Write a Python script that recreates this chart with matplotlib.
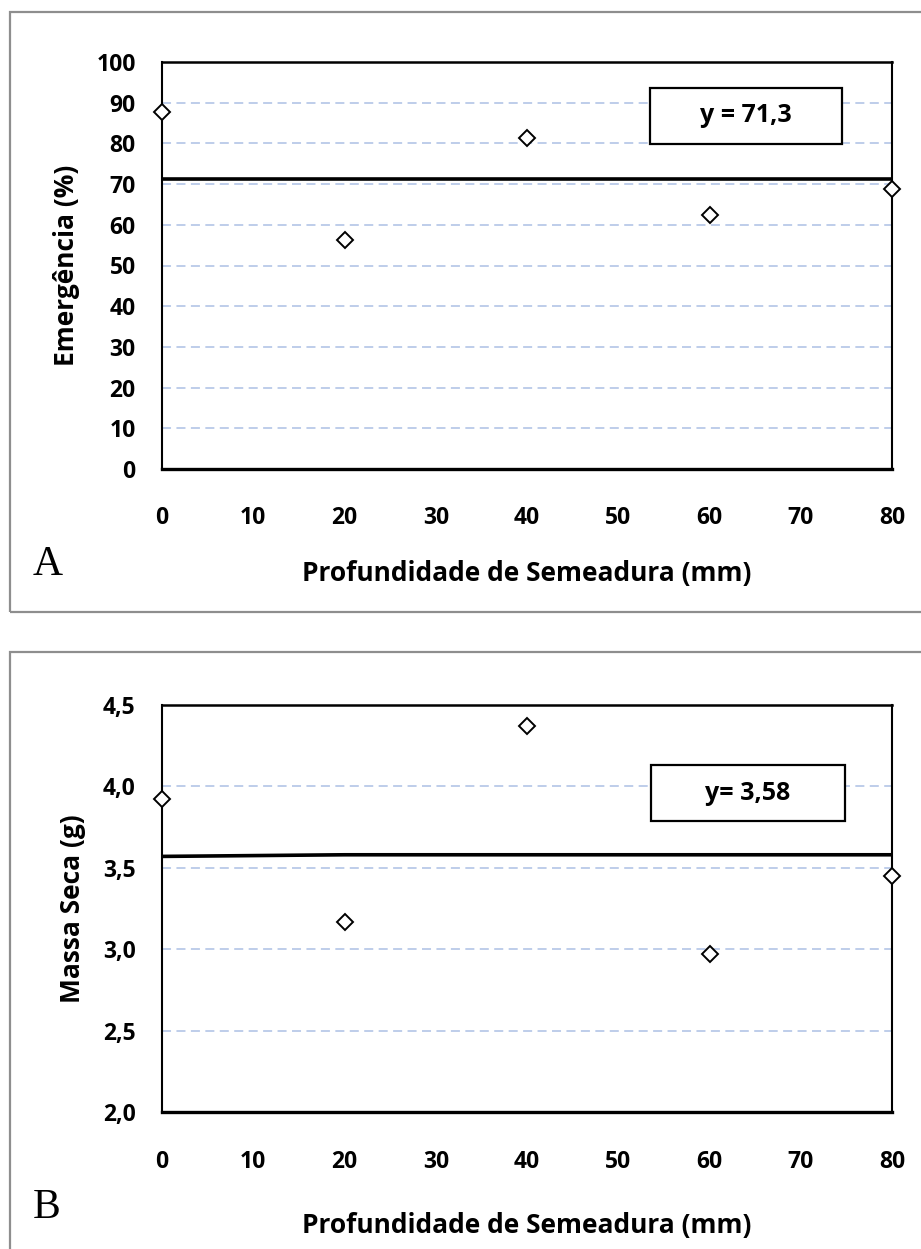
import matplotlib
matplotlib.use("Agg")
import matplotlib.pyplot as plt
from matplotlib.patches import Rectangle

# dados
profundidade = [0, 20, 40, 60, 80]
emergencia = [87.6, 56.3, 81.3, 62.5, 68.8]
emergencia_media = [71.3, 71.3, 71.3, 71.3, 71.3]
massa_seca = [3.92, 3.17, 4.37, 2.97, 3.45]
massa_media = [3.57, 3.58, 3.58, 3.58, 3.58]

x_ticks = [0, 10, 20, 30, 40, 50, 60, 70, 80]
y_ticks_a = [0, 10, 20, 30, 40, 50, 60, 70, 80, 90, 100]
y_ticks_b = [2.0, 2.5, 3.0, 3.5, 4.0, 4.5]

W, H = 921, 1249
FONT = "Open Sans"
GRID = "#b9c9e8"

fig = plt.figure(figsize=(W / 100, H / 100), dpi=100)


def px_rect(x0, y0, x1, y1):
    # pixels (origem no topo) -> coordenadas da figura
    return [x0 / W, 1 - y1 / H, (x1 - x0) / W, (y1 - y0) / H]


def painel(top, frame, y, media, yticks, ylim, ylabel, fmt, letra, eq, box, xpad):
    # moldura cinzenta
    fx0, fy0, fx1, fy1 = frame
    fig.patches.append(Rectangle((fx0 / W, 1 - fy1 / H), (fx1 - fx0) / W, (fy1 - fy0) / H,
                                 transform=fig.transFigure, fill=False,
                                 edgecolor="#8e8e8e", lw=1.6))

    ax = fig.add_axes(px_rect(162, top, 892, top + 407))
    ax.set_xlim(0, 80)
    ax.set_ylim(*ylim)
    for yt in yticks[1:-1]:
        ax.axhline(yt, color=GRID, lw=1.3, ls=(0, (5, 3)), zorder=1)
    ax.plot(profundidade, media, color="black", lw=2.6, zorder=2)
    ax.plot(profundidade, y, ls="none", marker="D", ms=7.8, mfc="white",
            mec="black", mew=1.4, clip_on=False, zorder=3)

    ax.set_xticks(x_ticks)
    ax.set_yticks(yticks)
    ax.set_yticklabels([fmt(v) for v in yticks])
    ax.tick_params(length=0, labelsize=16.5, pad=0)
    ax.tick_params(axis="y", pad=19)
    ax.tick_params(axis="x", pad=27)
    for lab in ax.get_xticklabels() + ax.get_yticklabels():
        lab.set_fontfamily(FONT)
        lab.set_fontweight("bold")
    for s in ax.spines.values():
        s.set_linewidth(1.5)
    ax.spines["bottom"].set_linewidth(2.4)
    ax.spines["top"].set_linewidth(1.8)

    ax.set_ylabel(ylabel, fontsize=19, fontweight="bold", family=FONT, labelpad=12)
    ax.set_xlabel("Profundidade de Semeadura (mm)", fontsize=19, fontweight="bold",
                  family=FONT, labelpad=xpad)

    # letra do painel
    fig.text(33 / W, 1 - (top + 513) / H, letra, family="Liberation Serif",
             fontsize=30, ha="left", va="baseline")

    # caixa da equação
    bx0, by0, bx1, by1 = box
    fig.patches.append(Rectangle((bx0 / W, 1 - by1 / H), (bx1 - bx0) / W, (by1 - by0) / H,
                                 transform=fig.transFigure, facecolor="white",
                                 edgecolor="black", lw=1.6, zorder=5))
    fig.text((bx0 + bx1) / 2 / W, 1 - (by0 + by1) / 2 / H, eq, family=FONT,
             fontweight="bold", fontsize=18, ha="center", va="center", zorder=6)
    return ax


painel(62, (10, 12, 935, 612), emergencia, emergencia_media, y_ticks_a, (0, 100),
       "Emergência (%)", lambda v: f"{v:.0f}", "A", "y = 71,3", (650, 88, 842, 144), 21)
painel(705, (10, 652, 935, 1260), massa_seca, massa_media, y_ticks_b, (2.0, 4.5),
       "Massa Seca (g)", lambda v: f"{v:.1f}".replace(".", ","), "B", "y= 3,58",
       (651, 765, 845, 821), 28)

fig.savefig("out.png", dpi=100)
